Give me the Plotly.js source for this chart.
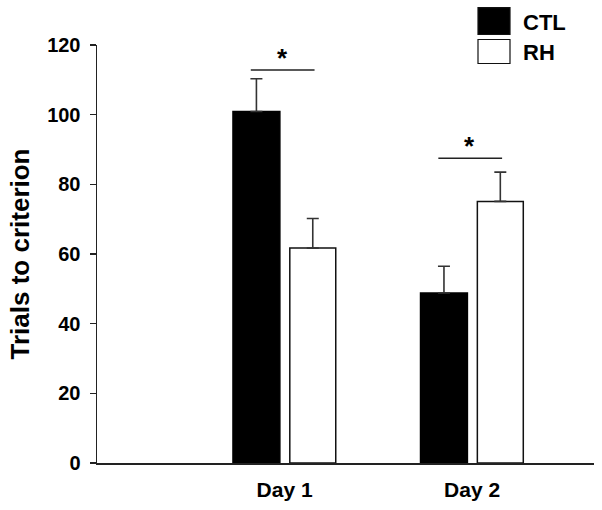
<!DOCTYPE html>
<html>
<head>
<meta charset="utf-8">
<script src="https://cdn.plot.ly/plotly-3.0.1.min.js"></script>
<style>html,body{margin:0;padding:0;background:#fff;}#chart{width:602px;height:510px;}</style>
</head>
<body>
<div id="chart"></div>
<script>
// ---- data ----
const days = ["Day 1", "Day 2"];
const dayPos = [0, 1];
const ctlMean = [100.9, 48.8];
const ctlSem = [9.4, 7.7];
const rhMean = [61.7, 75.1];
const rhSem = [8.5, 8.4];
const sigY = [112.8, 87.5];
const sigLabel = ["*", "*"];
const seriesNames = ["CTL", "RH"];
const yTicks = [0, 20, 40, 60, 80, 100, 120];

// ---- layout helpers ----
const W = 602, H = 510;
const M = {l: 97, r: 8, t: 44.5, b: 47};
const pw = W - M.l - M.r, ph = H - M.t - M.b;
const px2x = p => (p - M.l) / pw;
const py2y = p => (H - M.b - p) / ph;
const font = "Liberation Sans, Arial, Helvetica, sans-serif";
const axisColor = "#222";

const ctl = {
  type: "bar", name: seriesNames[0], x: dayPos, y: ctlMean,
  width: 0.25, offset: -0.275,
  marker: {color: "#000", line: {color: "#000", width: 1.5}},
  error_y: {type: "data", array: ctlSem, symmetric: false, arrayminus: [0, 0],
            color: "#333", thickness: 1.6, width: 6},
  showlegend: false
};
const rh = {
  type: "bar", name: seriesNames[1], x: dayPos, y: rhMean,
  width: 0.245, offset: 0.028,
  marker: {color: "#fff", line: {color: "#111", width: 1.5}},
  error_y: {type: "data", array: rhSem, symmetric: false, arrayminus: [0, 0],
            color: "#333", thickness: 1.6, width: 6},
  showlegend: false
};

const shapes = [];
const annotations = [];
const half = 0.17;
dayPos.forEach((d, i) => {
  shapes.push({type: "line", xref: "x", yref: "y", x0: d - half - 0.01, x1: d + half - 0.01,
               y0: sigY[i], y1: sigY[i], line: {color: "#222", width: 1.5}});
  annotations.push({xref: "x", yref: "y", x: d - 0.012, y: sigY[i], text: "<b>" + sigLabel[i] + "</b>",
                    showarrow: false, yanchor: "bottom", yshift: -5,
                    font: {family: font, size: 26, color: "#000"}});
});

// legend (drawn manually to match large boxes)
const legBoxes = [
  {x0: 478, x1: 510, y0: 7, y1: 34, fill: "#000"},
  {x0: 478, x1: 510, y0: 39, y1: 63, fill: "#fff"}
];
legBoxes.forEach((b, i) => {
  shapes.push({type: "rect", xref: "paper", yref: "paper",
               x0: px2x(b.x0), x1: px2x(b.x1), y0: py2y(b.y1), y1: py2y(b.y0),
               fillcolor: b.fill, line: {color: "#111", width: 1.2}});
  annotations.push({xref: "paper", yref: "paper", x: px2x(521), y: py2y((b.y0 + b.y1) / 2 + 1),
                    xanchor: "left", yanchor: "middle", showarrow: false,
                    text: "<b>" + seriesNames[i] + "</b>",
                    font: {family: font, size: 22, color: "#000"}});
});

const layout = {
  width: W, height: H,
  margin: M,
  paper_bgcolor: "#fff", plot_bgcolor: "#fff",
  bargap: 0,
  xaxis: {
    range: [-1, 1.65], tickvals: dayPos, ticktext: days.map(d => "<b>" + d + "</b>"),
    showline: true, linecolor: axisColor, linewidth: 1.5, ticks: "",
    ticklabelstandoff: 7,
    showgrid: false, zeroline: false, fixedrange: true,
    tickfont: {family: font, size: 21, color: "#000"}
  },
  yaxis: {
    range: [0, 120], tickvals: yTicks,
    ticktext: yTicks.map(t => "<b>" + t + "</b>"),
    showline: true, linecolor: axisColor, linewidth: 1.5,
    ticks: "outside", ticklen: 6, tickwidth: 1.5, tickcolor: axisColor,
    ticklabelstandoff: 5,
    showgrid: false, zeroline: false, fixedrange: true,
    tickfont: {family: font, size: 20, color: "#000"},
    title: {text: "<b>Trials to criterion</b>", font: {family: font, size: 26, color: "#000"}, standoff: 10}
  },
  shapes: shapes,
  annotations: annotations
};

Plotly.newPlot("chart", [ctl, rh], layout, {displayModeBar: false, staticPlot: true});
</script>
</body>
</html>
